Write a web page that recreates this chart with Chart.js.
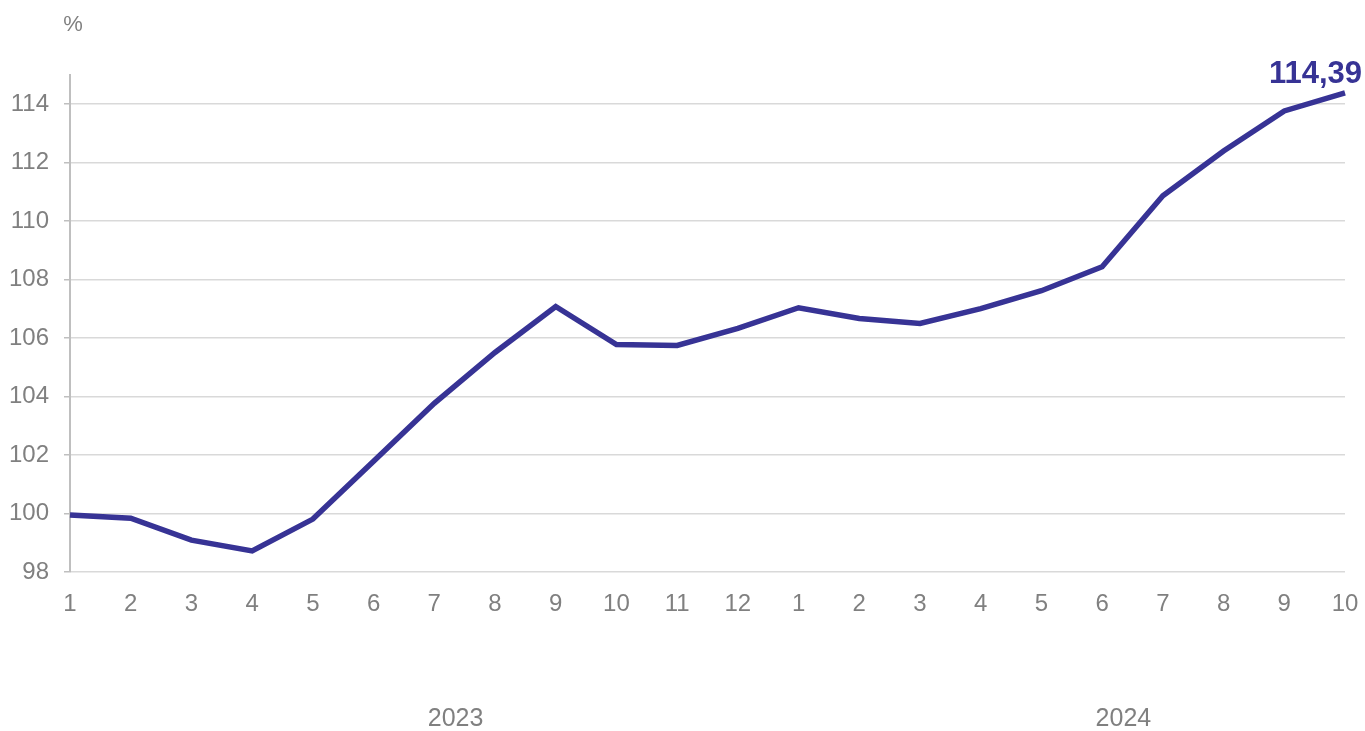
<!DOCTYPE html>
<html lang="en">
<head>
  <title>Index</title>
  <meta charset="utf-8">
  <script src="https://cdn.jsdelivr.net/npm/chart.js@4.4.1/dist/chart.umd.min.js"></script>
  <style>
    html, body { margin: 0; padding: 0; background: #fff; }
    .wrap { width: 1365px; height: 731px; }
  </style>
</head>
<body>
<div class="wrap"><canvas id="chart" width="1365" height="731"></canvas></div>

<script>
  // month labels, two years
  const months = ["1","2","3","4","5","6","7","8","9","10","11","12",
                  "1","2","3","4","5","6","7","8","9","10"];
  const years = ["2023", "2024"];
  const yearStart = [0, 12];
  const yearCount = [12, 10];
  const values = [99.95, 99.84, 99.09, 98.72, 99.81, 101.79, 103.77, 105.51, 107.08, 105.78, 105.75,
                  106.33, 107.04, 106.67, 106.50, 107.01, 107.62, 108.44, 110.87, 112.40, 113.77, 114.39];

  const lineColour = "#373395";
  const textColour = "#808080";
  const font = "Liberation Sans, Arial, sans-serif";

  // last value label, "%" unit and year labels under the months
  const extras = {
    id: "extras",
    afterDatasetsDraw(chart) {
      const ctx = chart.ctx;
      const x = chart.scales.x;
      const area = chart.chartArea;
      ctx.save();

      const pts = chart.getDatasetMeta(0).data;
      const last = pts[pts.length - 1];
      const v = values[values.length - 1];
      ctx.font = "bold 31px " + font;
      ctx.fillStyle = lineColour;
      ctx.textAlign = "right";
      ctx.textBaseline = "bottom";
      ctx.fillText(v.toFixed(2).replace(".", ","), last.x + 17, last.y - 3);

      ctx.font = "22px " + font;
      ctx.fillStyle = textColour;
      ctx.textAlign = "center";
      ctx.textBaseline = "middle";
      ctx.fillText("%", area.left + 3, 25);

      ctx.font = "25px " + font;
      for (let i = 0; i < years.length; i++) {
        const mid = yearStart[i] + (yearCount[i] - 1) / 2 + 0.85;
        ctx.fillText(years[i], x.getPixelForValue(mid), 719);
      }
      ctx.restore();
    }
  };

  new Chart(document.getElementById("chart"), {
    type: "line",
    data: {
      labels: months,
      datasets: [{
        data: values,
        borderColor: lineColour,
        borderWidth: 5.5,
        pointRadius: 0,
        tension: 0,
        fill: false
      }]
    },
    options: {
      responsive: false,
      animation: false,
      layout: { padding: { top: 75, right: 20, left: 0, bottom: 0 } },
      plugins: { legend: { display: false }, tooltip: { enabled: false } },
      scales: {
        x: {
          offset: false,
          grid: { display: false, drawTicks: false },
          border: { display: false },
          ticks: { color: textColour, font: { family: font, size: 24 }, padding: 18, maxRotation: 0, autoSkip: false },
          afterFit(s) { s.height = 159; s.paddingRight = 0; s.paddingLeft = 0; }
        },
        y: {
          min: 98,
          max: 115,
          afterBuildTicks(s) { s.ticks = s.ticks.filter(t => t.value <= 114); },
          ticks: { stepSize: 2, color: textColour, font: { family: font, size: 24 }, padding: 15 },
          grid: { color: "#d9d9d9", lineWidth: 1.5, tickColor: "#bfbfbf", tickLength: 6 },
          border: { color: "#bfbfbf", width: 2 },
          afterFit(s) { s.width = 70; }
        }
      }
    },
    plugins: [extras]
  });
</script>
</body>
</html>
